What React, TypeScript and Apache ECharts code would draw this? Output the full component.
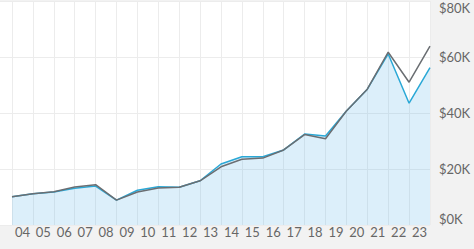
import React, { useEffect, useRef } from "react";
import * as echarts from "echarts";

const yearLabels = ["04", "05", "06", "07", "08", "09", "10", "11", "12", "13", "14", "15", "16", "17", "18", "19", "20", "21", "22", "23"];
// values at each year boundary (start of 2004 ... end of 2023), in $K
const grayValues = [10.1, 11.2, 11.9, 13.6, 14.4, 8.9, 11.8, 13.2, 13.5, 15.8, 20.8, 23.5, 23.9, 26.8, 32.3, 30.8, 40.7, 48.5, 61.7, 51.0, 63.9];
const blueValues = [10.1, 11.2, 11.8, 13.1, 13.9, 8.9, 12.4, 13.7, 13.5, 15.8, 21.8, 24.4, 24.4, 26.8, 32.5, 31.8, 40.7, 48.5, 61.1, 43.5, 56.2];
const yTicks = [0, 20000, 40000, 60000, 80000];

export default function App() {
  const ref = useRef<HTMLDivElement>(null);
  useEffect(() => {
    if (!ref.current) return;
    const chart = echarts.init(ref.current, null, { renderer: "svg" });
    const font = "Lato, 'Open Sans', sans-serif";
    const toPts = (arr: number[]) => arr.map((v, i) => [i, v * 1000]);
    chart.setOption({
      animation: false,
      backgroundColor: "#f2f2f2",
      grid: [
        { left: 0, right: 44, top: 1, bottom: 24, show: true, backgroundColor: "#ffffff", borderWidth: 0 },
        { left: 12, right: 44, top: 1, bottom: 24 },
      ],
      xAxis: [
        { type: "value", gridIndex: 0, min: 0, max: 1, show: false },
        {
          type: "value", gridIndex: 1, min: 0, max: 20, interval: 1,
          axisLine: { show: false }, axisTick: { show: false }, axisLabel: { show: false },
          splitLine: { show: true, lineStyle: { color: "#ececec", width: 1 } },
        },
        {
          type: "category", gridIndex: 1, data: yearLabels, boundaryGap: true, position: "bottom",
          axisLine: { show: false }, axisTick: { show: false }, splitLine: { show: false },
          axisLabel: { color: "#666", fontFamily: font, fontSize: 13, margin: 0, interval: 0 },
        },
      ],
      yAxis: [
        {
          type: "value", gridIndex: 0, position: "right", min: yTicks[0], max: yTicks[yTicks.length - 1], interval: 20000,
          axisLine: { show: false }, axisTick: { show: false },
          splitLine: { show: true, lineStyle: { color: "#ececec", width: 1 } },
          axisLabel: {
            color: "#666", fontFamily: font, fontSize: 13, margin: 9,
            formatter: (v: number) => "$" + v / 1000 + "K",
            verticalAlignMaxLabel: "top", verticalAlignMinLabel: "bottom",
          },
        },
        { type: "value", gridIndex: 1, min: 0, max: 80000, show: false, splitLine: { show: false } },
      ],
      series: [
        {
          name: "Blue", type: "line", xAxisIndex: 1, yAxisIndex: 1, data: toPts(blueValues),
          showSymbol: false, symbol: "none",
          lineStyle: { color: "#2aa8d6", width: 1.5 },
          areaStyle: { color: "rgba(110,190,235,0.35)", origin: "start" },
          z: 2,
        },
        {
          name: "Gray", type: "line", xAxisIndex: 1, yAxisIndex: 1, data: toPts(grayValues),
          showSymbol: false, symbol: "none",
          lineStyle: { color: "#6a6e72", width: 1.5 },
          z: 3,
        },
      ],
    });
    return () => chart.dispose();
  }, []);
  return <div ref={ref} style={{ position: "fixed", left: 0, top: 0, width: 474, height: 249 }} />;
}
